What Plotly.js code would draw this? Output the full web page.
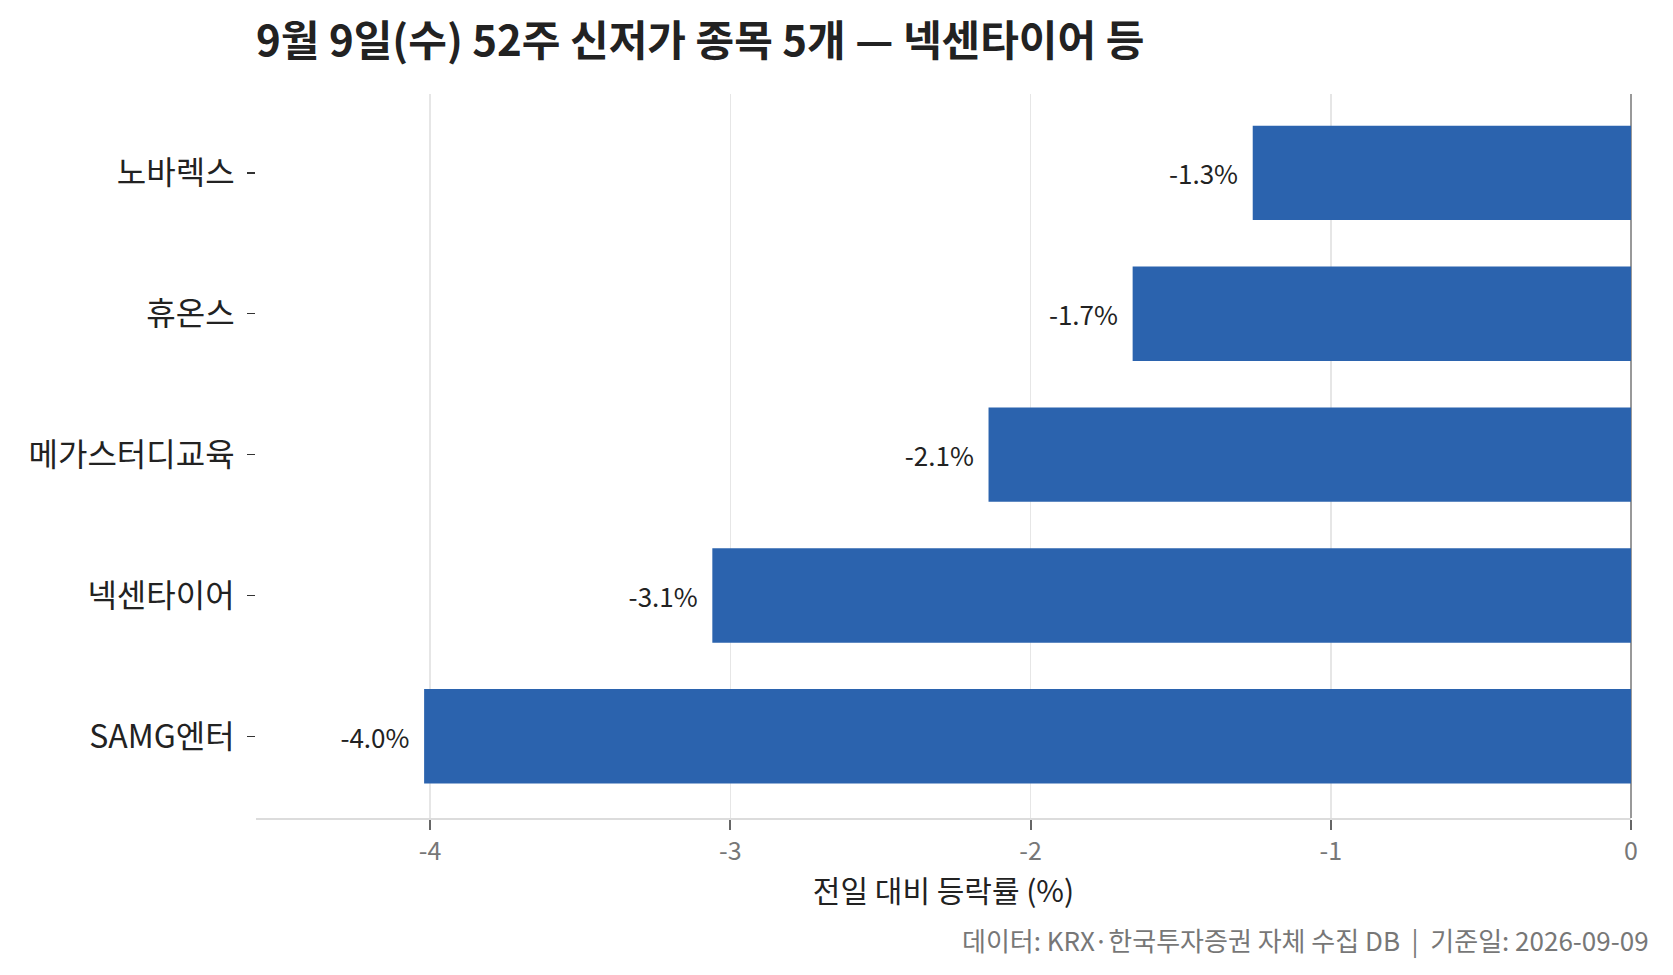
<!DOCTYPE html>
<html>
<head>
<meta charset="utf-8">
<script src="https://cdn.plot.ly/plotly-3.0.1.min.js"></script>
<style>
  html, body { margin: 0; padding: 0; background: #fff; }
  #chart { width: 1673px; height: 975px; }
</style>
</head>
<body>
<div id="chart"></div>
<script>
// 52주 신저가 종목 (bottom -> top)
var stocks = ['SAMG엔터', '넥센타이어', '메가스터디교육', '휴온스', '노바렉스'];
var changes = [-4.02, -3.06, -2.14, -1.66, -1.26];
var xTicks = [-4, -3, -2, -1, 0];
var xTickText = ['-4', '-3', '-2', '-1', '0'];

var FONT = '"Noto Sans CJK KR", "Noto Sans", sans-serif';
var NB = '\u00a0';

var trace = {
  type: 'bar',
  orientation: 'h',
  x: changes,
  y: stocks,
  marker: { color: '#2b63ae' },
  texttemplate: '%{x:.1f}%' + NB + NB,
  textposition: 'outside',
  cliponaxis: false,
  textfont: { family: FONT, size: 26, color: '#222' },
  hoverinfo: 'skip'
};

var layout = {
  width: 1673,
  height: 975,
  margin: { l: 256, r: 42, t: 94, b: 157 },
  paper_bgcolor: '#fff',
  plot_bgcolor: '#fff',
  bargap: 0.33,
  showlegend: false,
  font: { family: FONT, color: '#222' },
  title: {
    text: '<b>9월 9일(수) 52주 신저가 종목 5개 — 넥센타이어 등</b>',
    font: { family: FONT, size: 42, color: '#222' },
    xref: 'paper', x: 0, xanchor: 'left',
    yref: 'container', y: 0.958, yanchor: 'middle'
  },
  xaxis: {
    range: [-4.58, 0],
    tickvals: xTicks,
    ticktext: xTickText,
    ticks: 'outside', ticklen: 10, tickwidth: 2, tickcolor: '#666',
    tickfont: { family: FONT, size: 25, color: '#777' },
    showgrid: true, gridcolor: '#e6e6e6', gridwidth: 1.5,
    zeroline: true, zerolinecolor: '#999', zerolinewidth: 1.5,
    showline: true, linecolor: '#dcdcdc', linewidth: 2,
    title: { text: '전일 대비 등락률 (%)', font: { family: FONT, size: 30, color: '#222' }, standoff: 8 },
    fixedrange: true
  },
  yaxis: {
    type: 'category',
    range: [-0.58, 4.56],
    ticks: 'outside', ticklen: 8, tickwidth: 1.5, tickcolor: '#333',
    ticklabelstandoff: 6,
    tickfont: { family: FONT, size: 32, color: '#222' },
    showgrid: false, zeroline: false, showline: false,
    fixedrange: true
  },
  annotations: [{
    text: '데이터: KRX·한국투자증권 자체 수집 DB' + NB + NB + '|' + NB + NB + '기준일: 2026-09-09',
    xref: 'paper', yref: 'paper',
    x: 1, xanchor: 'right', xshift: 20,
    y: -0.1685, yanchor: 'middle',
    showarrow: false,
    font: { family: FONT, size: 26, color: '#777' }
  }]
};

Plotly.newPlot('chart', [trace], layout, { displayModeBar: false, staticPlot: true });
</script>
</body>
</html>
